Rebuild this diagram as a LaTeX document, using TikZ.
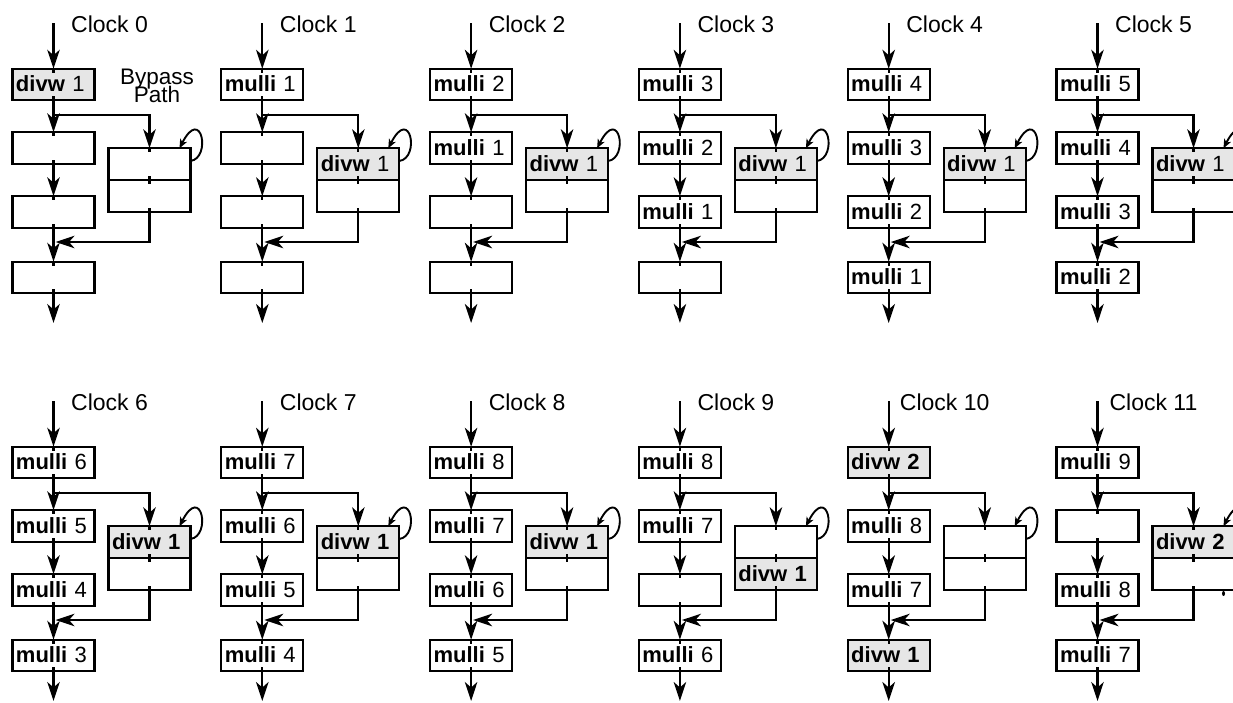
\documentclass[tikz,border=0pt]{standalone}
\usepackage{fontspec}
\setmainfont{Liberation Sans}
\usetikzlibrary{arrows.meta}
\definecolor{shadegray}{RGB}{230,230,230}
\tikzset{
  stagebox/.style={draw, line width=2.1pt, minimum width=82pt, minimum height=31.5pt,
    inner xsep=3.5pt, inner ysep=0pt, text width=75pt, align=left,
    text height=16pt, text depth=1.5pt, font=\fontsize{22}{22}\selectfont, outer sep=0pt},
  hilite/.style={fill=shadegray},
  plain/.style={},
  arr/.style={line width=2.1pt, -{Stealth[length=19pt,width=12.5pt,inset=5.5pt]}},
  looparr/.style={line width=1.9pt, -{Stealth[length=9pt,width=7.5pt,inset=2.5pt]}},
  tickline/.style={line width=2.1pt},
  clocklabel/.style={font=\fontsize{23}{23}\selectfont, inner sep=0pt, anchor=base},
}
\newcommand\cellnode[4]{\node[stagebox,#3] (#1) at #2 {#4};}
\newcommand\bypasscells[5]{%
  \node[stagebox,#2] (#1u) at (96,164) {#3};
  \node[stagebox,#4] (#1l) at (96,196) {#5};}
\newcommand\panel[9]{%
  \begin{scope}[shift={(#2,#3)}]
    \coordinate (#1in) at (0,23);
    \coordinate (#1sp) at (0,115);
    \coordinate (#1mg) at (2,242);
    \coordinate (#1out) at (0,323);
    \node[clocklabel] (#1lab) at (56,32.3) {#4};
    \cellnode{#1t}{(0,84.5)}#5
    \cellnode{#1b}{(0,148)}#6
    \cellnode{#1c}{(0,212)}#7
    \cellnode{#1d}{(0,277.5)}#8
    \bypasscells{#1}#9
    \draw[arr] (#1in) -- (#1t.north);
    \draw[arr] (#1t.south) -- (#1b.north);
    \draw[arr] (#1sp) -| (#1u.north);
    \draw[arr] (#1b.south) -- (#1c.north);
    \draw[arr] (#1c.south) -- (#1d.north);
    \draw[arr] (#1l.south) |- (#1mg);
    \draw[arr] (#1d.south) -- (#1out);
    \draw[looparr] ([yshift=3pt]#1u.east) .. controls +(21,-3) and +(22,-43) .. ([xshift=-11pt]#1u.north east);
    \foreach \n in {t,b,c,d,u,l}{%
      \draw[tickline] (#1\n.north) -- ++(0,4) (#1\n.south) -- ++(0,-4);}
  \end{scope}}
\newcommand\mul[1]{\textbf{mulli} #1}
\newcommand\tightfont{\fontsize{22.5}{18}\selectfont\lineskiplimit=-50pt\relax}
\begin{document}
\begin{tikzpicture}[x=1pt,y=-1pt]
\useasboundingbox (0,0) rectangle (1233,702);
\clip (0,0) rectangle (1233,702);
\fill[white] (0,0) rectangle (1233,702);
% row 1
\panel{pa}{53.5}{0}{Clock 0}{{hilite}{\textbf{divw} 1}}{{plain}{}}{{plain}{}}{{plain}{}}{{plain}{}{plain}{}}
\node[font=\tightfont, align=center, inner sep=0pt] (bypasslabel) at (157,85.5) {Bypass\\Path};
\panel{pb}{262.3}{0}{Clock 1}{{plain}{\mul{1}}}{{plain}{}}{{plain}{}}{{plain}{}}{{hilite}{\textbf{divw} 1}{plain}{}}
\panel{pc}{471.1}{0}{Clock 2}{{plain}{\mul{2}}}{{plain}{\mul{1}}}{{plain}{}}{{plain}{}}{{hilite}{\textbf{divw} 1}{plain}{}}
\panel{pd}{679.9}{0}{Clock 3}{{plain}{\mul{3}}}{{plain}{\mul{2}}}{{plain}{\mul{1}}}{{plain}{}}{{hilite}{\textbf{divw} 1}{plain}{}}
\panel{pe}{888.7}{0}{Clock 4}{{plain}{\mul{4}}}{{plain}{\mul{3}}}{{plain}{\mul{2}}}{{plain}{\mul{1}}}{{hilite}{\textbf{divw} 1}{plain}{}}
\panel{pf}{1097.5}{0}{Clock 5}{{plain}{\mul{5}}}{{plain}{\mul{4}}}{{plain}{\mul{3}}}{{plain}{\mul{2}}}{{hilite}{\textbf{divw} 1}{plain}{}}
% row 2
\panel{pg}{53.5}{378}{Clock 6}{{plain}{\mul{6}}}{{plain}{\mul{5}}}{{plain}{\mul{4}}}{{plain}{\mul{3}}}{{hilite}{\textbf{divw 1}}{plain}{}}
\panel{ph}{262.3}{378}{Clock 7}{{plain}{\mul{7}}}{{plain}{\mul{6}}}{{plain}{\mul{5}}}{{plain}{\mul{4}}}{{hilite}{\textbf{divw 1}}{plain}{}}
\panel{pi}{471.1}{378}{Clock 8}{{plain}{\mul{8}}}{{plain}{\mul{7}}}{{plain}{\mul{6}}}{{plain}{\mul{5}}}{{hilite}{\textbf{divw 1}}{plain}{}}
\panel{pj}{679.9}{378}{Clock 9}{{plain}{\mul{8}}}{{plain}{\mul{7}}}{{plain}{}}{{plain}{\mul{6}}}{{plain}{}{hilite}{\textbf{divw 1}}}
\panel{pk}{888.7}{378}{Clock 10}{{hilite}{\textbf{divw 2}}}{{plain}{\mul{8}}}{{plain}{\mul{7}}}{{hilite}{\textbf{divw 1}}}{{plain}{}{plain}{}}
\panel{pl}{1097.5}{378}{Clock 11}{{plain}{\mul{9}}}{{plain}{}}{{plain}{\mul{8}}}{{plain}{\mul{7}}}{{hilite}{\textbf{divw 2}}{plain}{}}
\fill (1223.5,593.5) ellipse [x radius=1.5pt, y radius=2.5pt];
\end{tikzpicture}
\end{document}
